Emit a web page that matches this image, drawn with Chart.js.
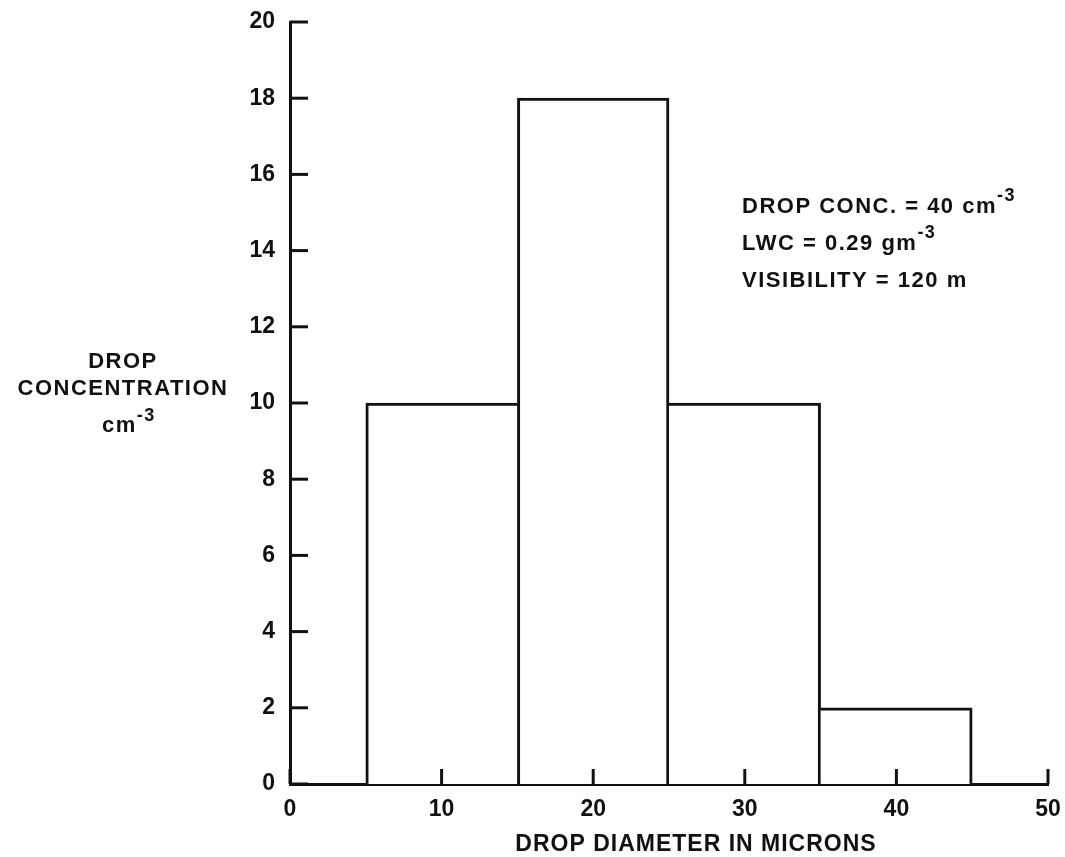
<!DOCTYPE html>
<html>
<head>
<meta charset="utf-8">
<script src="https://cdn.jsdelivr.net/npm/chart.js@4/dist/chart.umd.min.js"></script>
<style>
  html, body { margin: 0; padding: 0; background: #fff; }
  #wrap { width: 1065px; height: 857px; position: relative; }
</style>
</head>
<body>
<div id="wrap"><canvas id="chart"></canvas></div>
<script>
// bin centres (microns), each bin is 10 microns wide
const binCenters = [10, 20, 30, 40];
const dropConc = [10, 18, 10, 2];
const xTicks = [0, 10, 20, 30, 40, 50];
const yTicks = [0, 2, 4, 6, 8, 10, 12, 14, 16, 18, 20];
const xTitle = "DROP DIAMETER IN MICRONS";
const yTitleLines = ["DROP", "CONCENTRATION"];
const notes = [
    ["DROP CONC. = 40 cm", "-3"],
    ["LWC = 0.29 gm", "-3"],
    ["VISIBILITY = 120 m", ""]
];

const FONT = "'Liberation Sans', Arial, sans-serif";
const INK = "#111";

// inward tick marks + free text
const extras = {
    id: "extras",
    afterDraw(chart) {
        const ctx = chart.ctx;
        const xs = chart.scales.x, ys = chart.scales.y;
        const area = chart.chartArea;
        ctx.save();
        ctx.strokeStyle = INK;
        ctx.lineWidth = 3;
        xTicks.forEach(v => {
            const px = xs.getPixelForValue(v);
            ctx.beginPath();
            ctx.moveTo(px, area.bottom);
            ctx.lineTo(px, area.bottom - 15);
            ctx.stroke();
        });
        yTicks.forEach(v => {
            const py = ys.getPixelForValue(v);
            ctx.beginPath();
            ctx.moveTo(area.left, py);
            ctx.lineTo(area.left + 18, py);
            ctx.stroke();
        });

        ctx.fillStyle = INK;
        ctx.textBaseline = "alphabetic";

        // x axis title (sits a little right of centre in the original)
        ctx.letterSpacing = "1px";
        ctx.font = "bold 23px " + FONT;
        ctx.textAlign = "center";
        ctx.fillText(xTitle, 696, 851);

        // y axis title, horizontal
        ctx.letterSpacing = "1.5px";
        ctx.font = "bold 22px " + FONT;
        ctx.fillText(yTitleLines[0], 123, 368);
        ctx.fillText(yTitleLines[1], 123, 395);
        ctx.textAlign = "left";
        ctx.fillText("cm", 102, 432);
        let w = ctx.measureText("cm").width;
        ctx.font = "bold 18px " + FONT;
        ctx.fillText("-3", 102 + w, 421);

        notes.forEach((n, i) => {
            const y = 213 + i * 37;
            ctx.letterSpacing = "1.5px";
            ctx.font = "bold 22px " + FONT;
            ctx.fillText(n[0], 742, y);
            if (n[1]) {
                const tw = ctx.measureText(n[0]).width;
                ctx.font = "bold 18px " + FONT;
                ctx.fillText(n[1], 742 + tw, y - 12);
            }
        });
        ctx.restore();
    }
};

new Chart(document.getElementById("chart"), {
    type: "bar",
    data: {
        datasets: [{
            data: binCenters.map((x, i) => ({ x: x, y: dropConc[i] })),
            backgroundColor: "#fff",
            borderColor: INK,
            borderWidth: [
                { top: 3, left: 3, right: 0, bottom: 0 },
                { top: 3, left: 3, right: 3, bottom: 0 },
                { top: 3, left: 0, right: 3, bottom: 0 },
                { top: 3, left: 0, right: 3, bottom: 0 }
            ],
            borderSkipped: "bottom",
            barPercentage: 1,
            categoryPercentage: 1
        }]
    },
    options: {
        responsive: true,
        maintainAspectRatio: false,
        animation: false,
        layout: { padding: { top: 22, right: 17, left: 0, bottom: 0 } },
        plugins: {
            legend: { display: false },
            tooltip: { enabled: false }
        },
        scales: {
            x: {
                type: "linear",
                offset: false,
                min: 0,
                max: 50,
                ticks: {
                    stepSize: 10,
                    color: INK,
                    padding: 12,
                    font: { family: FONT, size: 23, weight: "bold" }
                },
                grid: { display: false, drawTicks: false },
                border: { display: true, color: INK, width: 3 },
                afterFit: s => { s.height = 73; s.paddingRight = 0; s.paddingLeft = 0; }
            },
            y: {
                min: 0,
                max: 20,
                ticks: {
                    stepSize: 2,
                    color: INK,
                    padding: 15,
                    font: { family: FONT, size: 23, weight: "bold" }
                },
                grid: { display: false, drawTicks: false },
                border: { display: true, color: INK, width: 3 },
                afterFit: s => { s.width = 290; s.paddingTop = 0; s.paddingBottom = 0; }
            }
        }
    },
    plugins: [extras]
});
</script>
</body>
</html>
